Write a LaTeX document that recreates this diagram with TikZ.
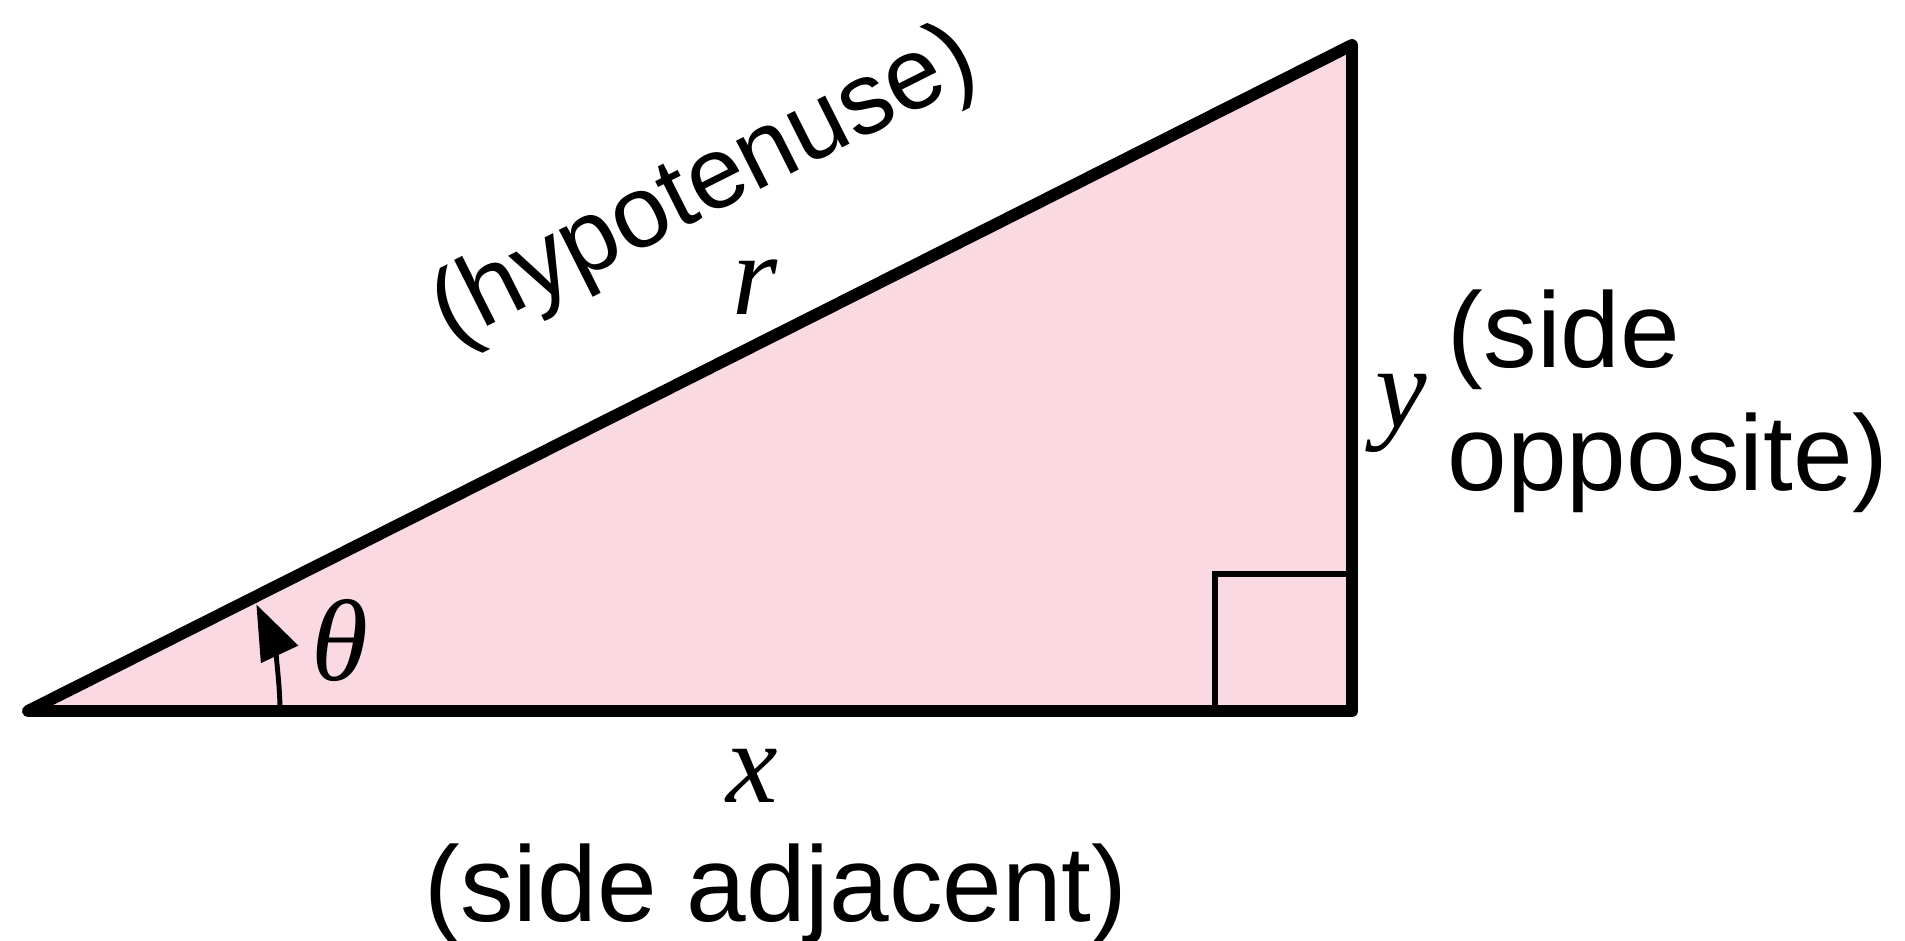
\documentclass[tikz,border=0pt]{standalone}
\usepackage{fontspec}
\usepackage{graphicx}
\setmainfont{Liberation Sans}
\newfontfamily\varfont{Liberation Serif}
\usetikzlibrary{arrows.meta, positioning, calc}
\definecolor{trifill}{RGB}{250,217,226}
\begin{document}
\begin{tikzpicture}[
    lbl/.style={inner sep=0pt, font=\fontsize{30.5}{36}\selectfont},
    var/.style={inner sep=0pt, font=\fontsize{33}{38}\selectfont\varfont\itshape}]
        % 画布大小
        \useasboundingbox (0,0) rectangle (19.05,9.4);
        % 定义两条直角边的长度
        \def\base{13.24}
        \def\height{6.66}
        % 直角标记的边长
        \def\marksize{1.37}
        % 角度弧线的半径
        \def\radius{2.52}
        % 三角形的三个顶点
        \coordinate (A) at (0.28,2.29);
        \coordinate (B) at ($(A)+(\base,0)$);
        \coordinate (C) at ($(B)+(0,\height)$);
        % 计算斜边的倾角
        \pgfmathsetmacro\hypangle{atan(\height/\base)}
        % 填充三角形
        \fill[trifill] (A) -- (B) -- (C) -- cycle;
        % 直角标记
        \draw[line width=1.7pt] ($(B)+(-\marksize,0)$) |- ($(B)+(0,\marksize)$);
        % 绘制三角形的边
        \draw[line width=3.4pt, line join=round] (A) -- (B) -- (C) -- cycle;
        % 角度弧线，带箭头
        \draw[line width=1.4pt, -{Triangle[length=5.5mm,width=4mm]}] ($(A)+(\radius,0)$) arc (0:25:\radius);
        % 标注角度和三条边
        \node[var] (theta) at (3.40,2.99) {θ};
        \node[var] (r) at (7.55,6.53) {r};
        \node[var] (x) at (7.52,1.64) {x};
        \node[var] (y) at (14.01,5.27) {y};
        % 边的名称
        \node[lbl, font=\fontsize{29}{34}\selectfont] (hyp) at (7.05,7.52) {\rotatebox{\hypangle}{(hypotenuse)}};
        \node[lbl, anchor=base] (adj) at (7.76,0.19) {(side adjacent)};
        \node[lbl, anchor=base west] (opp1) at (14.47,5.73) {(side};
        \node[lbl, anchor=base west] (opp2) at (14.47,4.50) {opposite)};
    \end{tikzpicture}
\end{document}
